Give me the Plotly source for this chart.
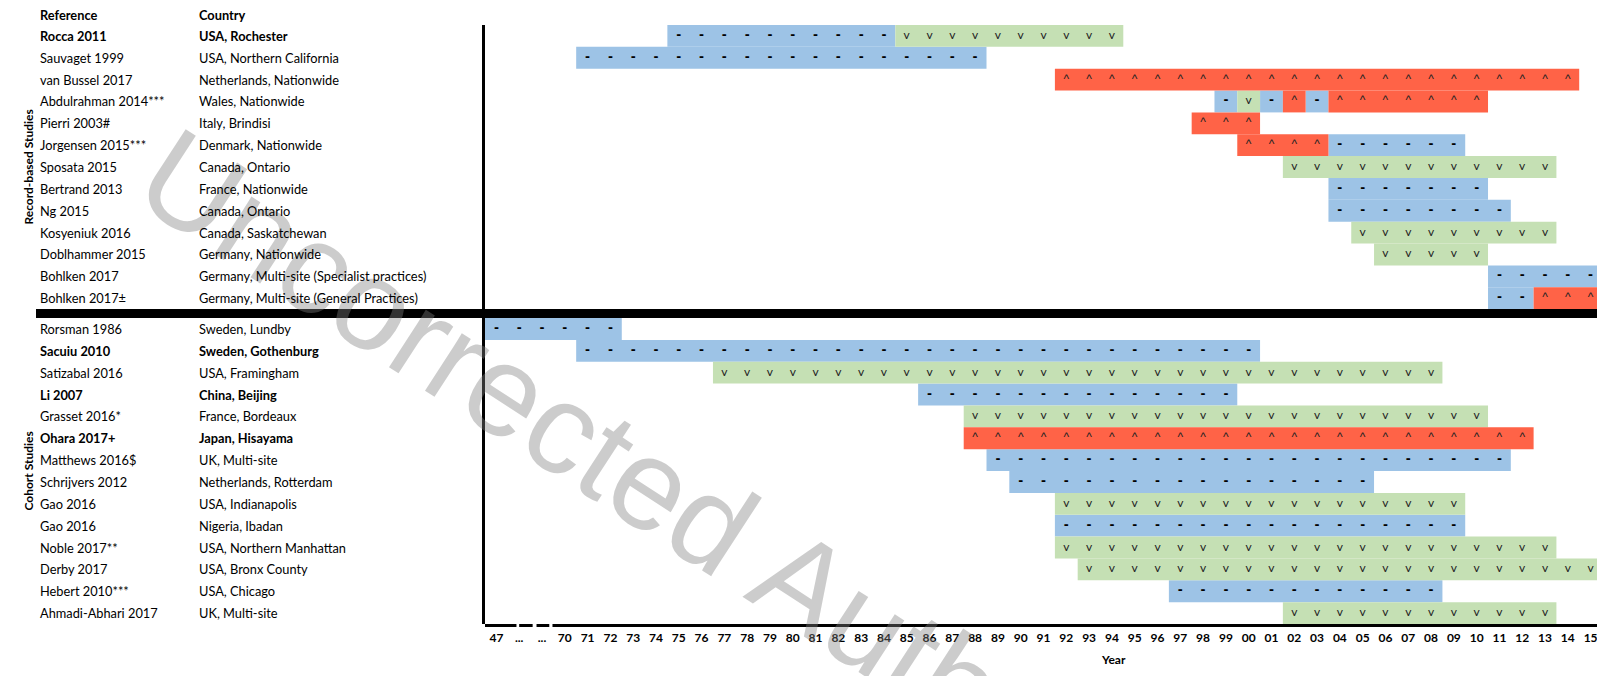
import plotly.graph_objects as go

# ---------------- data ----------------
x_labels = ["47", "...", "...",
            "70", "71", "72", "73", "74", "75", "76", "77", "78", "79",
            "80", "81", "82", "83", "84", "85", "86", "87", "88", "89",
            "90", "91", "92", "93", "94", "95", "96", "97", "98", "99",
            "00", "01", "02", "03", "04", "05", "06", "07", "08", "09",
            "10", "11", "12", "13", "14", "15"]

record_refs = ["Rocca 2011", "Sauvaget 1999", "van Bussel 2017", "Abdulrahman 2014***",
               "Pierri 2003#", "Jorgensen 2015***", "Sposata 2015", "Bertrand 2013",
               "Ng 2015", "Kosyeniuk 2016", "Doblhammer 2015", "Bohlken 2017", "Bohlken 2017±"]
record_countries = ["USA, Rochester", "USA, Northern California", "Netherlands, Nationwide",
                    "Wales, Nationwide", "Italy, Brindisi", "Denmark, Nationwide",
                    "Canada, Ontario", "France, Nationwide", "Canada, Ontario",
                    "Canada, Saskatchewan", "Germany, Nationwide",
                    "Germany, Multi-site (Specialist practices)",
                    "Germany, Multi-site (General Practices)"]
record_bold = [True, False, False, False, False, False, False, False, False, False, False, False, False]
record_start = ["75", "71", "92", "99", "98", "00", "02", "04", "04", "05", "06", "11", "11"]
record_trend = ["----------vvvvvvvvvv",
                "------------------",
                "^^^^^^^^^^^^^^^^^^^^^^^",
                "-v-^-^^^^^^^",
                "^^^",
                "^^^^------",
                "vvvvvvvvvvvv",
                "-------",
                "--------",
                "vvvvvvvvv",
                "vvvvv",
                "-----",
                "--^^^"]

cohort_refs = ["Rorsman 1986", "Sacuiu 2010", "Satizabal 2016", "Li 2007", "Grasset 2016*",
               "Ohara 2017+", "Matthews 2016$", "Schrijvers 2012", "Gao 2016", "Gao 2016",
               "Noble 2017**", "Derby 2017", "Hebert 2010***", "Ahmadi-Abhari 2017"]
cohort_countries = ["Sweden, Lundby", "Sweden, Gothenburg", "USA, Framingham", "China, Beijing",
                    "France, Bordeaux", "Japan, Hisayama", "UK, Multi-site",
                    "Netherlands, Rotterdam", "USA, Indianapolis", "Nigeria, Ibadan",
                    "USA, Northern Manhattan", "USA, Bronx County", "USA, Chicago", "UK, Multi-site"]
cohort_bold = [False, True, False, True, False, True, False, False, False, False, False, False, False, False]
cohort_start = ["47", "71", "77", "86", "88", "88", "89", "90", "92", "92", "92", "93", "97", "02"]
cohort_trend = ["------",
                "------------------------------",
                "vvvvvvvvvvvvvvvvvvvvvvvvvvvvvvvv",
                "--------------",
                "vvvvvvvvvvvvvvvvvvvvvvv",
                "^^^^^^^^^^^^^^^^^^^^^^^^^",
                "-----------------------",
                "----------------",
                "vvvvvvvvvvvvvvvvvv",
                "------------------",
                "vvvvvvvvvvvvvvvvvvvvvv",
                "vvvvvvvvvvvvvvvvvvvvvvv",
                "------------",
                "vvvvvvvvvvvv"]

group_names = ["Record-based Studies", "Cohort Studies"]
header_ref, header_country = "Reference", "Country"
x_title = "Year"
watermark = "Uncorrected Author Proof"

# ---------------- styling ----------------
COLORS = {"-": "#9DC3E6", "v": "#C5E0B4", "^": "#FF6347"}
FONT = "Lato, 'Open Sans', sans-serif"
SEP = 0.41            # thickness of the group separator (row units)
n_rec = len(record_refs)
n_coh = len(cohort_refs)
y_total = n_rec + SEP + n_coh

# page body has an 8px margin -> shift everything by it
OX, OY = 8, 8
W, H = 1597, 668
L, R, T, B = 477, 3, 17, 52
pw = W - L - R
ph = H - T - B


def xp(px_ref):
    """reference-page pixel x -> paper x"""
    return (px_ref - OX - L) / pw


def yp(py_ref):
    """reference-page pixel y -> paper y"""
    return (T + ph - (py_ref - OY)) / ph


rows = []  # (ypos, ref, country, bold, start, trend)
for i in range(n_rec):
    rows.append((i + 0.5, record_refs[i], record_countries[i], record_bold[i], record_start[i], record_trend[i]))
for j in range(n_coh):
    rows.append((n_rec + SEP + j + 0.5, cohort_refs[j], cohort_countries[j], cohort_bold[j], cohort_start[j], cohort_trend[j]))

fig = go.Figure()

bars = {k: {"y": [], "x": [], "base": []} for k in COLORS}
texts = {k: {"y": [], "x": []} for k in COLORS}
for ypos, ref, country, bold, start, trend in rows:
    s = x_labels.index(start)
    k = 0
    while k < len(trend):
        sym = trend[k]
        m = k
        while m < len(trend) and trend[m] == sym:
            m += 1
        bars[sym]["y"].append(ypos)
        bars[sym]["base"].append(s + k)
        bars[sym]["x"].append(m - k)
        k = m
    for c, sym in enumerate(trend):
        texts[sym]["y"].append(ypos)
        texts[sym]["x"].append(s + c + 0.5)

for sym, d in bars.items():
    fig.add_trace(go.Bar(orientation="h", y=d["y"], x=d["x"], base=d["base"], width=1.0,
                         marker=dict(color=COLORS[sym], line=dict(width=0)),
                         hoverinfo="skip"))

sym_font = {"-": dict(size=12, color="#000000", family="DejaVu Sans", weight="bold"),
            "v": dict(size=12, color="#222222", family=FONT),
            "^": dict(size=12, color="#222222", family="Liberation Sans, Arial")}
for sym, d in texts.items():
    fig.add_trace(go.Scatter(x=d["x"], y=d["y"], mode="text", text=[sym] * len(d["x"]),
                             textposition="middle center", textfont=sym_font[sym],
                             hoverinfo="skip", cliponaxis=False))

annotations = []
annotations.append(dict(text=watermark, xref="paper", yref="paper", x=xp(764), y=yp(557),
                        xanchor="center", yanchor="middle", showarrow=False, textangle=33,
                        font=dict(family="Liberation Sans, Arial", size=129, color="rgba(128,128,128,0.4)")))

TXT = 12.8
annotations.append(dict(text="<b>%s</b>" % header_ref, xref="paper", yref="paper", x=xp(38), y=yp(14.5),
                        xanchor="left", yanchor="middle", showarrow=False, font=dict(size=TXT, family=FONT)))
annotations.append(dict(text="<b>%s</b>" % header_country, xref="paper", yref="paper", x=xp(197), y=yp(14.5),
                        xanchor="left", yanchor="middle", showarrow=False, font=dict(size=TXT, family=FONT)))
for ypos, ref, country, bold, start, trend in rows:
    r = "<b>%s</b>" % ref if bold else ref
    c = "<b>%s</b>" % country if bold else country
    annotations.append(dict(text=r, xref="paper", yref="y", x=xp(38), y=ypos, xanchor="left",
                            showarrow=False, font=dict(size=TXT, family=FONT)))
    annotations.append(dict(text=c, xref="paper", yref="y", x=xp(197), y=ypos, xanchor="left",
                            showarrow=False, font=dict(size=TXT, family=FONT)))

annotations.append(dict(text="<b>%s</b>" % group_names[0], xref="paper", yref="y", x=xp(19),
                        y=n_rec / 2, textangle=-90, showarrow=False, font=dict(size=12, family=FONT)))
annotations.append(dict(text="<b>%s</b>" % group_names[1], xref="paper", yref="y", x=xp(19),
                        y=n_rec + SEP + n_coh / 2, textangle=-90, showarrow=False, font=dict(size=12, family=FONT)))
annotations.append(dict(text="<b>%s</b>" % x_title, xref="paper", yref="paper", x=xp(1113),
                        y=yp(659), xanchor="center", yanchor="middle", showarrow=False,
                        font=dict(size=12, family=FONT)))

shapes = []
shapes.append(dict(type="rect", xref="paper", yref="y", x0=xp(36), x1=1.0,
                   y0=n_rec, y1=n_rec + SEP, fillcolor="black", line=dict(width=0), layer="above"))
yb = -1.5 / ph
for x0, x1 in [(-0.05, 1.38), (1.50, 2.09), (2.26, 2.82), (2.96, 49.0)]:
    shapes.append(dict(type="line", xref="x", yref="paper", x0=x0, x1=x1, y0=yb, y1=yb,
                       line=dict(color="black", width=3), layer="above"))

fig.update_layout(
    width=W, height=H, margin=dict(l=L, r=R, t=T, b=B),
    plot_bgcolor="white", paper_bgcolor="white", showlegend=False, barmode="overlay",
    font=dict(family=FONT, color="black"),
    annotations=annotations, shapes=shapes,
    xaxis=dict(range=[0, len(x_labels)], tickmode="array",
               tickvals=[i + 0.5 for i in range(len(x_labels))], ticktext=x_labels,
               tickfont=dict(size=12, family=FONT, weight="bold", color="black"),
               ticks="outside", ticklen=3, tickcolor="rgba(0,0,0,0)",
               showgrid=False, zeroline=False, showline=False),
    yaxis=dict(range=[y_total, 0], showticklabels=False, ticks="", showgrid=False,
               zeroline=False, showline=True, linewidth=3, linecolor="black"),
)

fig.write_html("out.html")
